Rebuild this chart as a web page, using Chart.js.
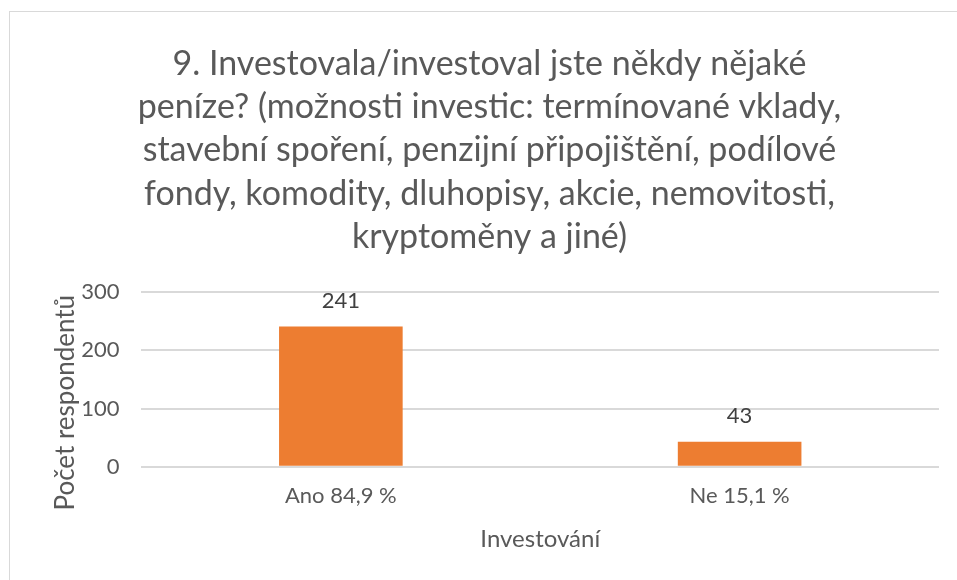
<!DOCTYPE html>
<html>
<head>
<meta charset="utf-8">
<script src="https://cdn.jsdelivr.net/npm/chart.js@4"></script>
<style>
  html, body { margin: 0; padding: 0; background: #fff; overflow: hidden; }
  #wrap { position: relative; width: 957px; height: 580px; }
  #frame { position: absolute; left: 9px; top: 11px; width: 1000px; height: 700px; border: 1px solid #d9d9d9; box-sizing: border-box; }
  canvas { position: absolute; left: 0; top: 0; }
</style>
</head>
<body>
<div id="wrap">
  <div id="frame"></div>
  <canvas id="myChart" width="957" height="580"></canvas>
</div>
<script>
// data
const categories = ['Ano 84,9 %', 'Ne 15,1 %'];
const counts = [241, 43];
const titleLines = [
    '9. Investovala/investoval jste někdy nějaké',
    'peníze? (možnosti investic: termínované vklady,',
    'stavební spoření, penzijní připojištění, podílové',
    'fondy, komodity, dluhopisy, akcie, nemovitosti,',
    'kryptoměny a jiné)'
];
const yTicks = [0, 100, 200, 300];

const fontFam = 'Lato, "Open Sans", sans-serif';
const grey = '#595959';

// values above bars
const barLabels = {
    id: 'barLabels',
    afterDatasetsDraw(chart) {
        const ctx = chart.ctx;
        const meta = chart.getDatasetMeta(0);
        ctx.save();
        ctx.font = '22px ' + fontFam;
        ctx.fillStyle = '#404040';
        ctx.textAlign = 'center';
        ctx.textBaseline = 'middle';
        meta.data.forEach((bar, i) => {
            ctx.fillText(String(counts[i]), bar.x, bar.y - 26);
        });
        ctx.restore();
    }
};

var ctx = document.getElementById('myChart').getContext('2d');
var myChart = new Chart(ctx, {
    type: 'bar',
    data: {
        labels: categories,
        datasets: [{
            data: counts,
            backgroundColor: '#ED7D31',
            categoryPercentage: 1,
            barPercentage: 0.31
        }]
    },
    options: {
        responsive: false,
        animation: false,
        layout: { padding: { left: 40, right: 18, top: 43, bottom: 26 } },
        plugins: {
            legend: { display: false },
            tooltip: { enabled: false },
            title: {
                display: true,
                text: titleLines,
                color: grey,
                font: { family: fontFam, size: 34, weight: 'normal', lineHeight: 1.265 },
                padding: { top: 0, bottom: 34 }
            }
        },
        scales: {
            x: {
                grid: { display: false, drawTicks: false },
                border: { display: false },
                ticks: { color: grey, font: { family: fontFam, size: 22 }, padding: 16 },
                title: {
                    display: true,
                    text: 'Investování',
                    color: grey,
                    font: { family: fontFam, size: 24 },
                    padding: { top: 0, bottom: 0 }
                }
            },
            y: {
                min: 0,
                max: 300,
                afterBuildTicks(axis) { axis.ticks = yTicks.map(v => ({ value: v })); },
                grid: { color: '#d9d9d9', lineWidth: 2, drawTicks: false },
                border: { display: false },
                ticks: { color: grey, font: { family: fontFam, size: 22 }, padding: 22 },
                title: {
                    display: true,
                    text: 'Počet respondentů       ',
                    color: grey,
                    font: { family: fontFam, size: 26 },
                    padding: { top: 10, bottom: -22 }
                }
            }
        }
    },
    plugins: [barLabels]
});
</script>
</body>
</html>
